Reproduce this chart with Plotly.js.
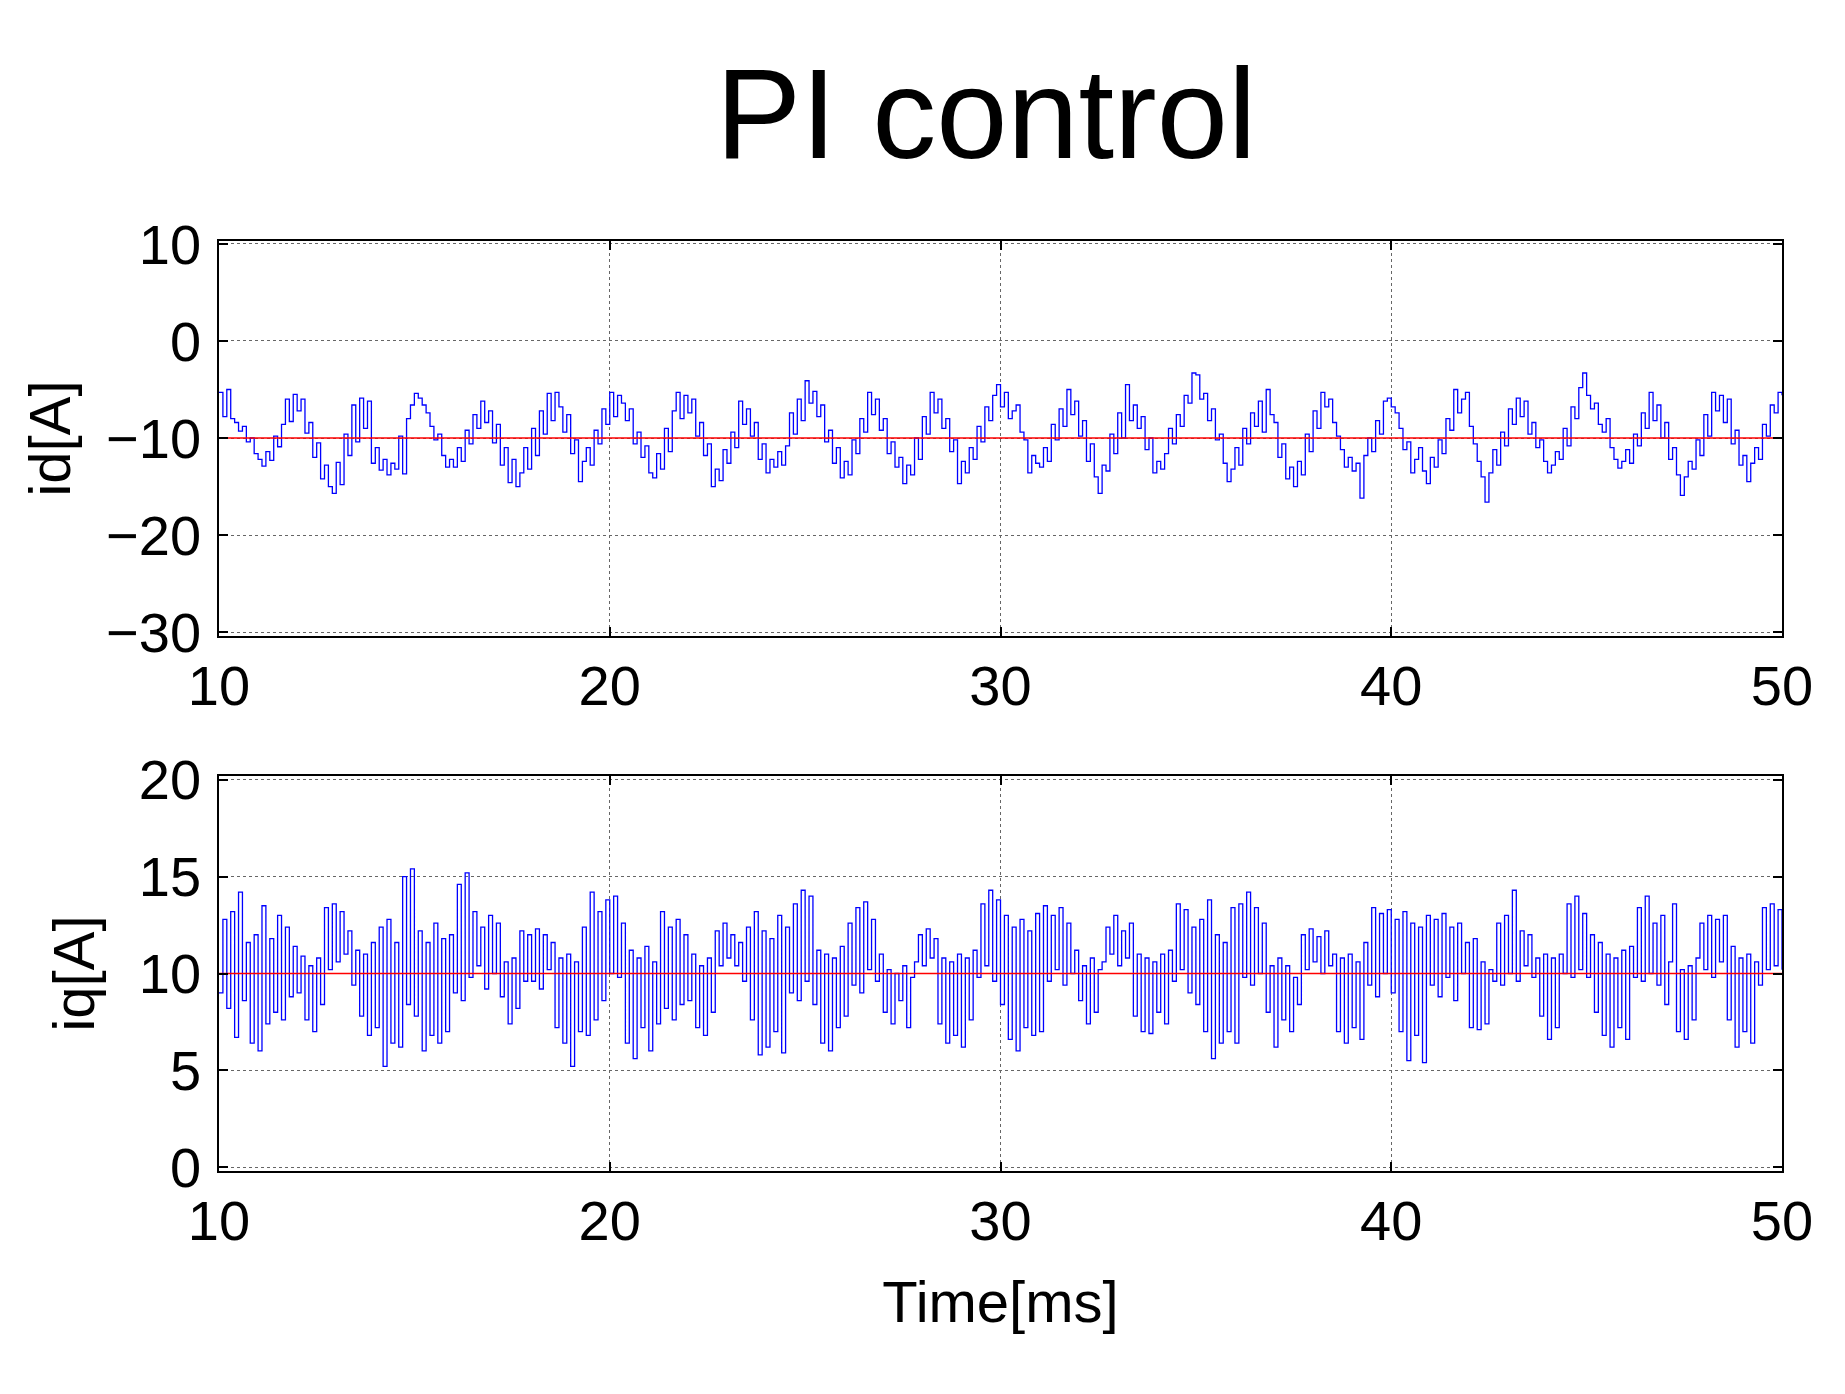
<!DOCTYPE html>
<html>
<head>
<meta charset="utf-8">
<script src="https://cdn.plot.ly/plotly-3.0.1.min.js"></script>
<style>html,body{margin:0;padding:0;background:#fff;}#chart{width:1845px;height:1394px;}</style>
</head>
<body>
<div id="chart"></div>
<script>
// ---- data ----
const chartTitle = "PI control";
const xTitle = "Time[ms]";
const idTitle = "id[A]";
const iqTitle = "iq[A]";
const tStart = 10;      // ms
const tStep = 0.1;      // ms sample period
const xTicks = [10, 20, 30, 40, 50];
const idTicks = [10, 0, -10, -20, -30];
const iqTicks = [20, 15, 10, 5, 0];
const refTime = [10, 50];
const idRef = [-10, -10];
const iqRef = [10, 10];

// id [A], one row per ms (10 samples each), last value at t = 50 ms
const idValues = [
 -5.3,-7.8,-5.0,-8.0,-8.4,-9.3,-8.8,-10.4,-10.0,-11.6,
 -12.2,-12.9,-11.4,-12.3,-9.8,-10.9,-8.6,-6.0,-8.3,-5.5,
 -7.2,-6.0,-9.5,-8.4,-12.0,-10.5,-14.2,-12.8,-15.0,-15.7,
 -12.5,-14.8,-9.6,-11.8,-6.6,-10.4,-5.9,-9.0,-6.2,-12.6,
 -11.0,-13.3,-12.2,-13.8,-12.6,-13.2,-9.8,-13.7,-8.0,-6.6,
 -5.4,-5.9,-6.6,-7.4,-8.8,-10.2,-9.6,-11.8,-13.0,-12.2,
 -13.0,-11.0,-12.4,-9.2,-10.6,-7.6,-9.0,-6.2,-8.4,-7.2,
 -10.5,-8.6,-12.8,-11.0,-14.6,-12.2,-15.0,-13.6,-11.0,-13.2,
 -9.0,-11.8,-7.2,-9.6,-5.4,-8.2,-5.3,-6.8,-9.4,-7.6,
 -11.6,-10.2,-14.5,-12.4,-11.0,-12.8,-9.2,-10.6,-7.0,-8.6,
 -5.3,-7.8,-5.6,-6.4,-8.2,-7.0,-10.6,-9.4,-12.0,-10.8,
 -13.6,-14.1,-11.6,-13.2,-9.0,-11.4,-7.2,-5.3,-8.0,-5.6,
 -7.4,-6.0,-9.8,-8.4,-11.8,-10.6,-15.0,-13.2,-14.4,-11.2,
 -12.6,-9.4,-11.0,-6.2,-8.6,-7.0,-9.8,-8.4,-12.2,-10.6,
 -13.6,-12.2,-13.0,-11.4,-12.8,-10.8,-7.4,-9.6,-6.0,-8.2,
 -4.1,-6.4,-5.2,-7.8,-6.6,-10.4,-9.2,-12.6,-11.0,-14.1,
 -12.4,-13.8,-10.2,-11.6,-8.0,-9.4,-5.3,-7.6,-6.0,-9.2,
 -8.0,-11.6,-10.4,-13.0,-12.0,-14.7,-12.8,-13.8,-10.0,-12.2,
 -7.8,-9.6,-5.3,-7.4,-6.0,-9.0,-8.0,-11.4,-10.2,-14.7,
 -12.4,-13.6,-11.0,-12.2,-8.8,-10.4,-6.8,-8.2,-5.6,-4.5,
 -6.8,-5.3,-8.0,-7.2,-6.6,-9.4,-10.2,-13.6,-11.8,-12.6,
 -13.0,-11.0,-12.4,-8.6,-10.2,-7.0,-8.8,-5.0,-7.6,-6.2,
 -9.8,-8.2,-12.4,-10.6,-14.0,-15.7,-12.8,-13.4,-9.6,-11.6,
 -7.4,-10.0,-4.5,-8.2,-6.6,-9.0,-7.8,-11.2,-10.0,-13.6,
 -12.4,-13.2,-11.6,-9.0,-10.6,-7.6,-8.8,-5.6,-6.4,-3.3,
 -3.5,-6.0,-5.4,-8.2,-7.0,-10.2,-9.6,-12.6,-14.5,-13.2,
 -11.0,-12.8,-9.0,-10.6,-7.4,-8.8,-6.2,-9.4,-5.0,-7.6,
 -8.4,-12.0,-10.6,-14.2,-13.0,-15.0,-12.4,-13.8,-9.6,-11.4,
 -7.2,-9.0,-5.3,-6.8,-6.0,-8.4,-9.8,-11.2,-13.0,-12.0,
 -13.4,-12.6,-16.2,-11.8,-10.0,-11.4,-8.2,-9.6,-6.2,-5.9,
 -6.8,-7.4,-9.0,-11.2,-10.4,-13.6,-12.2,-11.0,-13.4,-14.7,
 -12.0,-13.0,-10.2,-11.6,-8.0,-9.2,-5.0,-7.4,-6.0,-5.3,
 -8.8,-10.6,-12.4,-14.0,-16.6,-13.6,-11.2,-12.8,-9.4,-10.8,
 -7.0,-8.6,-5.9,-7.8,-6.2,-9.6,-8.4,-11.0,-10.2,-12.4,
 -13.6,-12.8,-11.4,-12.2,-9.0,-10.8,-6.8,-8.0,-4.8,-3.3,
 -5.6,-7.0,-6.4,-8.6,-9.4,-8.0,-11.0,-12.2,-13.1,-12.4,
 -11.2,-12.6,-9.6,-10.8,-7.4,-9.0,-5.3,-8.2,-6.6,-10.0,
 -8.4,-12.2,-11.0,-13.8,-15.9,-14.0,-12.4,-13.2,-10.2,-11.8,
 -7.6,-9.8,-5.3,-7.2,-5.6,-8.4,-6.0,-10.6,-9.2,-12.8,
 -11.8,-14.5,-12.6,-11.0,-12.2,-8.6,-9.8,-6.6,-7.4,-5.3,
 -5.6
];

// iq [A], one row per ms (10 samples each), last value at t = 50 ms
const iqValues = [
 9.0,12.8,8.2,13.2,6.7,14.2,8.6,11.6,6.4,12.0,
 6.0,13.5,7.4,11.8,8.0,13.0,7.6,12.4,8.8,11.4,
 9.0,10.9,7.6,10.4,7.0,10.8,8.4,13.4,10.2,13.6,
 10.6,13.2,11.0,12.2,9.4,11.2,7.8,11.0,6.8,11.6,
 7.2,12.4,5.2,12.8,6.4,11.6,6.2,15.0,8.4,15.4,
 7.8,12.2,6.0,11.6,6.8,12.6,6.4,11.8,7.0,12.0,
 9.0,14.6,8.6,15.2,9.8,13.2,10.4,12.4,9.2,13.0,
 10.0,12.6,8.8,10.6,7.4,10.8,8.2,12.2,9.6,12.0,
 9.6,12.3,9.2,12.0,10.2,11.6,7.2,10.8,6.4,11.0,
 5.2,10.6,7.0,12.4,6.8,14.2,7.6,13.2,8.6,13.8,
 10.0,14.0,9.8,12.6,6.4,11.2,5.6,10.8,7.2,11.4,
 6.0,10.6,7.4,13.2,8.2,12.4,7.6,12.8,8.4,12.0,
 8.6,11.0,7.2,10.4,6.8,10.8,8.0,12.2,10.4,12.6,
 10.8,12.0,10.4,11.6,9.6,12.4,7.6,13.2,5.8,12.2,
 6.2,11.8,7.0,13.0,5.9,12.4,9.0,13.6,8.6,14.3,
 9.6,14.0,8.4,11.2,6.4,11.0,6.0,10.8,7.2,11.4,
 7.8,12.6,9.4,13.4,9.0,13.7,10.2,12.8,9.6,11.0,
 8.0,10.2,7.4,10.0,8.6,10.4,7.2,9.8,10.6,12.0,
 10.4,12.3,10.8,11.8,7.4,10.8,6.4,10.6,6.8,11.0,
 6.2,10.8,7.6,11.2,9.8,13.6,10.4,14.3,9.6,13.8,
 8.4,13.0,6.6,12.4,6.0,12.8,7.2,12.2,6.8,13.1,
 7.0,13.5,9.6,13.0,10.2,13.4,9.4,12.6,10.0,11.2,
 8.6,10.4,7.4,10.8,8.0,10.2,10.6,12.4,11.0,13.0,
 10.4,12.2,10.8,12.6,7.8,11.0,7.0,10.8,6.9,10.6,
 8.0,11.0,7.4,11.2,9.6,13.6,10.2,13.3,9.0,12.4,
 8.4,12.8,7.0,13.8,5.6,12.0,6.4,11.6,7.0,13.4,
 6.4,13.6,9.8,14.2,9.4,13.4,10.0,12.6,8.0,10.4,
 6.2,10.8,7.6,10.4,7.0,9.8,8.4,12.0,10.2,12.3,
 10.6,11.9,10.0,12.2,10.4,11.0,7.0,10.8,6.4,11.0,
 7.2,10.6,6.6,11.6,9.4,13.4,8.8,13.1,10.0,13.3,
 9.0,12.8,7.0,13.2,5.5,12.6,6.8,12.4,5.4,13.0,
 9.4,12.8,8.8,13.1,9.8,12.4,8.6,12.6,10.0,11.6,
 7.2,11.8,7.1,10.6,7.4,10.2,9.6,12.6,9.4,13.0,
 10.0,14.3,9.6,12.2,10.4,12.0,9.8,10.8,7.8,11.0,
 6.6,10.8,7.2,11.0,10.0,13.6,9.8,14.0,10.2,13.1,
 9.8,12.0,8.0,11.6,6.8,11.0,6.2,10.8,7.2,11.2,
 6.6,11.4,9.8,13.4,9.6,14.0,10.0,12.6,9.4,13.0,
 8.4,10.6,13.6,7.0,10.2,6.6,10.4,7.6,10.8,12.6,
 10.2,13.0,9.8,12.8,10.6,13.0,7.6,11.4,6.2,10.8,
 7.0,11.0,6.4,10.6,9.4,13.4,10.2,13.6,10.4,13.3,
 10.2
];

// ---- build ----
const timeAxis = idValues.map((_, i) => +(tStart + i * tStep).toFixed(2));
const timeAxisQ = iqValues.map((_, i) => +(tStart + i * tStep).toFixed(2));

const FONT = '"Liberation Sans", Arial, Helvetica, sans-serif';
const W = 1845, H = 1394;
const px = v => v / W;
const py = v => 1 - v / H;

const traces = [
  {x: timeAxis, y: idValues, xaxis: 'x', yaxis: 'y', type: 'scatter', mode: 'lines',
   line: {color: '#0000ff', width: 1.3, shape: 'hv'}, name: 'id', hoverinfo: 'x+y'},
  {x: refTime, y: idRef, xaxis: 'x', yaxis: 'y', type: 'scatter', mode: 'lines',
   line: {color: '#ff0000', width: 1.5}, name: 'id ref'},
  {x: timeAxisQ, y: iqValues, xaxis: 'x2', yaxis: 'y2', type: 'scatter', mode: 'lines',
   line: {color: '#0000ff', width: 1.3, shape: 'hv'}, name: 'iq'},
  {x: refTime, y: iqRef, xaxis: 'x2', yaxis: 'y2', type: 'scatter', mode: 'lines',
   line: {color: '#ff0000', width: 1.5}, name: 'iq ref'}
];

const xDomain = [px(219), px(1782)];
const common = {
  showline: true, linecolor: '#000', linewidth: 1.5, mirror: 'ticks',
  ticks: 'inside', ticklen: 9, tickwidth: 2, tickcolor: '#000',
  showgrid: true, gridcolor: '#666', griddash: 'dot', gridwidth: 1,
  zeroline: false, tickfont: {family: FONT, size: 56, color: '#000'}
};

const layout = {
  width: W, height: H,
  margin: {l: 0, r: 0, t: 0, b: 0},
  paper_bgcolor: '#fff', plot_bgcolor: '#fff',
  showlegend: false,
  font: {family: FONT, color: '#000'},
  title: {text: chartTitle, font: {family: FONT, size: 128, color: '#000'},
          x: px(986), xanchor: 'center', xref: 'paper', y: py(113), yanchor: 'middle', yref: 'paper'},
  xaxis: Object.assign({}, common, {domain: xDomain, anchor: 'y', range: [10, 50],
          tickvals: xTicks, ticktext: xTicks.map(String), ticklabelstandoff: 0}),
  yaxis: Object.assign({}, common, {domain: [py(636), py(241)], anchor: 'x', range: [-30.4, 10.3],
          tickvals: idTicks, ticklabelstandoff: 5,
          title: {text: idTitle, font: {family: FONT, size: 58, color: '#000'}, standoff: 17}}),
  xaxis2: Object.assign({}, common, {domain: xDomain, anchor: 'y2', range: [10, 50],
          tickvals: xTicks, ticktext: xTicks.map(String), ticklabelstandoff: 0,
          title: {text: xTitle, font: {family: FONT, size: 58, color: '#000'}, standoff: 30}}),
  yaxis2: Object.assign({}, common, {domain: [py(1171), py(776)], anchor: 'x2', range: [-0.2, 20.2],
          tickvals: iqTicks, ticklabelstandoff: 5,
          title: {text: iqTitle, font: {family: FONT, size: 58, color: '#000'}, standoff: 25}})
};

Plotly.newPlot('chart', traces, layout, {displayModeBar: false, responsive: false});
</script>
</body>
</html>
